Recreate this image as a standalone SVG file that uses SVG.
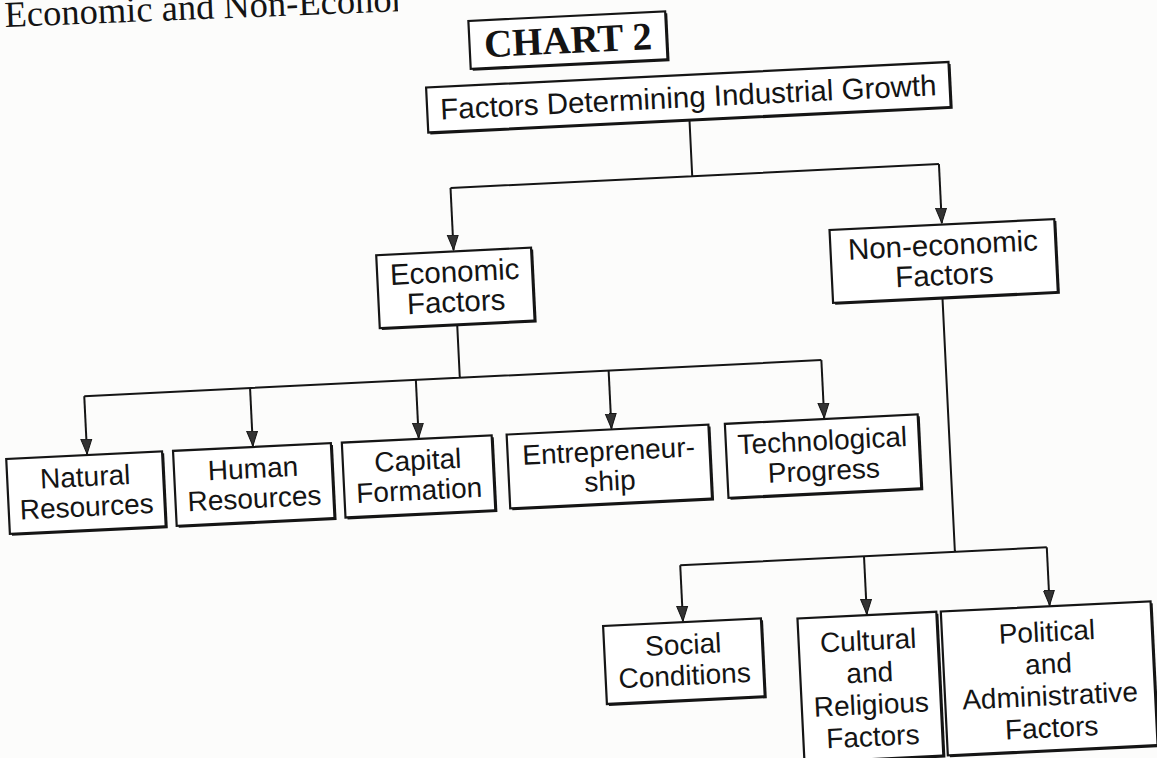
<svg xmlns="http://www.w3.org/2000/svg" width="1157" height="758" viewBox="0 0 1157 758">
<defs>
<style>
.bg{fill:#fcfcfb}
.box{fill:#fff;stroke:#151515;stroke-width:2.2}
.sh{fill:#151515}
.lbl{font-family:"Liberation Sans",Arial,sans-serif;font-size:28px;fill:#141414;text-anchor:middle}
.big{font-size:29.5px}
.conn{fill:none;stroke:#151515;stroke-width:2}
.arr{fill:none;stroke:#151515;stroke-width:2;marker-end:url(#ah)}
</style>
<marker id="ah" markerUnits="userSpaceOnUse" markerWidth="16" markerHeight="13" viewBox="0 0 16 13" refX="15" refY="6.5" orient="auto">
<path d="M0,1 L15,6.5 L0,12 z" fill="#333" stroke="#151515" stroke-width="1"/>
</marker>
<clipPath id="hc" clipPathUnits="userSpaceOnUse"><rect x="0" y="0" width="398" height="60"/></clipPath>
</defs>
<rect class="bg" x="0" y="0" width="1157" height="758"/>
<g id="header" clip-path="url(#hc)">
<text x="5" y="27" transform="rotate(-2.3 5 27)" font-family="Liberation Serif,Times New Roman,serif" font-size="36.5" fill="#141414">Economic and Non-Economic</text>
</g>
<g transform="rotate(-2.8 578 379)">
<g id="connectors">
<path class="conn" d="M702,125.5 V182 M460,182 H949"/>
<path class="arr" d="M460,182 V244"/>
<path class="arr" d="M949,182 V241"/>
<path class="conn" d="M460,318.5 V372 M84,372 H822"/>
<path class="arr" d="M84,372 V430"/>
<path class="arr" d="M250,372 V430"/>
<path class="arr" d="M416,372 V430"/>
<path class="arr" d="M609,372 V430"/>
<path class="arr" d="M822,372 V430"/>
<path class="conn" d="M946,315.5 V570 M671,570 H1038"/>
<path class="arr" d="M671,570 V626"/>
<path class="arr" d="M855,570 V628"/>
<path class="arr" d="M1038,570 V628"/>
</g>
<g id="chart2">
<rect class="sh" x="488" y="18" width="197" height="48"/>
<rect class="box" x="486" y="16" width="197" height="48"/>
<text x="584.5" y="53" font-family="Liberation Serif,Times New Roman,serif" font-weight="bold" font-size="39" fill="#141414" text-anchor="middle">CHART 2</text>
</g>
<g id="root">
<rect class="sh" x="442.5" y="82.5" width="523" height="45"/>
<rect class="box" x="440.5" y="80.5" width="523" height="45"/>
<text class="lbl big" x="702" y="113">Factors Determining Industrial Growth</text>
</g>
<g id="economic">
<rect class="sh" x="384.5" y="247.5" width="155" height="73"/>
<rect class="box" x="382.5" y="245.5" width="155" height="73"/>
<text class="lbl big" x="460" y="276">Economic</text>
<text class="lbl big" x="460" y="306">Factors</text>
</g>
<g id="noneconomic">
<rect class="sh" x="838.5" y="244.5" width="225" height="73"/>
<rect class="box" x="836.5" y="242.5" width="225" height="73"/>
<text class="lbl big" x="949" y="273">Non-economic</text>
<text class="lbl big" x="949" y="303">Factors</text>
</g>
<g id="natural">
<rect class="sh" x="5" y="433" width="156" height="75"/>
<rect class="box" x="3" y="431" width="156" height="75"/>
<text class="lbl" x="81" y="462">Natural</text>
<text class="lbl" x="81" y="492">Resources</text>
</g>
<g id="human">
<rect class="sh" x="172" y="433" width="158" height="75"/>
<rect class="box" x="170" y="431" width="158" height="75"/>
<text class="lbl" x="249" y="462">Human</text>
<text class="lbl" x="249" y="492">Resources</text>
</g>
<g id="capital">
<rect class="sh" x="341" y="433" width="150" height="75"/>
<rect class="box" x="339" y="431" width="150" height="75"/>
<text class="lbl" x="414" y="462">Capital</text>
<text class="lbl" x="414" y="492">Formation</text>
</g>
<g id="entrepreneurship">
<rect class="sh" x="506" y="433" width="202" height="74"/>
<rect class="box" x="504" y="431" width="202" height="74"/>
<text class="lbl" x="605" y="462">Entrepreneur-</text>
<text class="lbl" x="605" y="492">ship</text>
</g>
<g id="technological">
<rect class="sh" x="724.5" y="433" width="193" height="74"/>
<rect class="box" x="722.5" y="431" width="193" height="74"/>
<text class="lbl" x="819" y="462">Technological</text>
<text class="lbl" x="819" y="492">Progress</text>
</g>
<g id="social">
<rect class="sh" x="593" y="629" width="158" height="78"/>
<rect class="box" x="591" y="627" width="158" height="78"/>
<text class="lbl" x="670" y="659">Social</text>
<text class="lbl" x="670" y="690">Conditions</text>
</g>
<g id="cultural">
<rect class="sh" x="787.5" y="631" width="139" height="144"/>
<rect class="box" x="785.5" y="629" width="139" height="144"/>
<text class="lbl" x="855" y="664">Cultural</text>
<text class="lbl" x="855" y="696">and</text>
<text class="lbl" x="855" y="728">Religious</text>
<text class="lbl" x="855" y="760">Factors</text>
</g>
<g id="political">
<rect class="sh" x="931" y="631" width="210" height="144"/>
<rect class="box" x="929" y="629" width="210" height="144"/>
<text class="lbl" x="1034" y="664">Political</text>
<text class="lbl" x="1034" y="696">and</text>
<text class="lbl" x="1034" y="728">Administrative</text>
<text class="lbl" x="1034" y="760">Factors</text>
</g>
</g>
</svg>
